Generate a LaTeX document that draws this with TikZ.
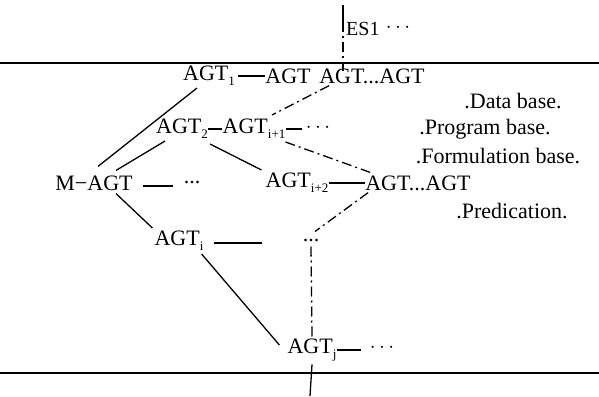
\documentclass[tikz,border=0pt]{standalone}
\usepackage{fontspec}
\setmainfont{Liberation Serif}
\newcommand{\lowidx}[1]{\raisebox{-0.5ex}{\fontsize{13}{13}\selectfont #1}}
\begin{document}
\begin{tikzpicture}[x=1pt,y=-1pt,
  every node/.style={inner sep=0pt,font=\fontsize{22}{24}\selectfont},
  agent/.style={anchor=center},
  layer/.style={anchor=center},
  link/.style={line width=1.3pt},
  dlink/.style={line width=1.3pt,dash pattern=on 10pt off 4pt on 2pt off 4pt},
  rule/.style={line width=1.4pt}]
\useasboundingbox (0,0) rectangle (599,396);

% boundary lines
\draw[rule] (0,63) -- (599,63);
\draw[rule] (0,373) -- (599,373);

% entry point on top
\coordinate (esTop) at (343,5);
\coordinate (esMid) at (343,22);
\coordinate (esBot) at (343,71);
\draw[link] (esTop) -- (esMid);
\draw[dlink] (esMid) -- (esBot);
\node[anchor=west,font=\fontsize{20}{22}\selectfont] (es1) at (346,29) {ES1};
\node (esdots) at (398,28) {$\cdots$};

% row 1
\node[agent] (a1) at (209,76) {AGT\lowidx{1}};
\node[agent] (agt) at (288,76) {AGT};
\node[agent] (r1) at (372,76) {AGT...AGT};

% row 2
\node[agent] (a2) at (182,129) {AGT\lowidx{2}};
\node[agent] (ai1) at (254,129) {AGT\lowidx{i+1}};
\node (dots2) at (318,128) {$\cdots$};

% row 3
\node[agent] (m) at (94,183) {M−AGT};
\node (dots3) at (192,183) {...};
\node[agent] (ai2) at (297,183) {AGT\lowidx{i+2}};
\node[agent] (r3) at (418,183) {AGT...AGT};

% row 4
\node[agent] (ai) at (179,241) {AGT\lowidx{i}};
\node (dots4) at (311,241) {...};

% row 5
\node[agent] (aj) at (312,350) {AGT\lowidx{j}};
\node (dots5) at (382,348) {$\cdots$};

% layer names
\node[layer] (l1) at (513,101) {.Data base.};
\node[layer] (l2) at (485,129) {.Program base.};
\node[layer] (l3) at (498,156) {.Formulation base.};
\node[layer] (l4) at (512,211) {.Predication.};

% horizontal links (shifts are in page units: negative yshift = lower)
\draw[link] (a1.east) ++(3,0) -- (agt.west);
\draw[link] (a2.east) -- (ai1.west);
\draw[link] (ai1.east) -- ++(16,0);
\draw[link] ([yshift=-3pt]m.east) ++(10,0) -- ++(30,0);
\draw[link] (ai2.east) -- (r3.west);
\draw[link] ([yshift=-2pt]ai.east) ++(10,0) -- ++(48,0);
\draw[link] (aj.east) -- ++(24,0);

% solid links
\draw[link] ([xshift=-12pt,yshift=-2pt]a1.south) -- ([xshift=4pt,yshift=9pt]m.north);
\draw[link] ([xshift=-17pt,yshift=-2pt]a2.south) -- ([xshift=22pt,yshift=5pt]m.north);
\draw[link] ([xshift=28pt,yshift=-5pt]a2.south) -- ([xshift=-4pt,yshift=3pt]ai2.north west);
\draw[link] ([xshift=22pt,yshift=-3pt]m.south) -- ([xshift=-2pt,yshift=3pt]ai.north west);
\draw[link] ([xshift=-2pt,yshift=-3pt]ai.south east) -- ([xshift=-8pt,yshift=5pt]aj.west);

% dash-dot links
\draw[dlink] ([xshift=10pt,yshift=-2pt]r1.south west) -- ([xshift=18pt,yshift=4pt]ai1.north);
\draw[dlink] ([xshift=0pt,yshift=-3pt]ai1.south east) -- ([xshift=5pt,yshift=3pt]r3.north west);
\draw[dlink] ([xshift=3pt,yshift=-2pt]r3.south west) -- ([xshift=4pt,yshift=8pt]dots4.north);
\draw[dlink] ([yshift=-4pt]dots4.south) -- ([yshift=2pt]aj.north);
\draw[link] ([yshift=-3pt]aj.south) -- (310,396);
\end{tikzpicture}
\end{document}
